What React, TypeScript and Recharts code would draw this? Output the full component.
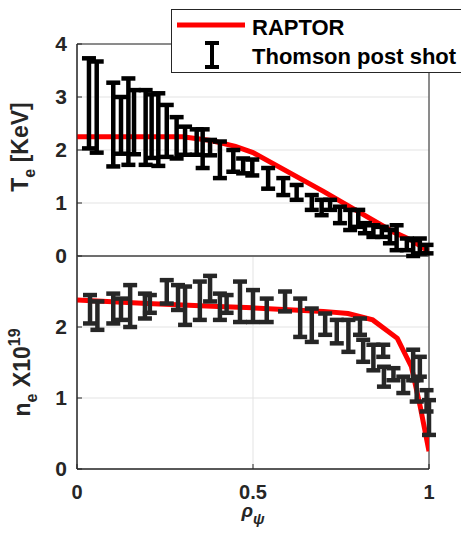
import React from 'react';
import { ComposedChart, Line, Scatter, ErrorBar, XAxis, YAxis, CartesianGrid, ReferenceArea, Legend } from 'recharts';

const FONT = '"Liberation Sans", Arial, Helvetica, sans-serif';
const AXIS = '#262626';
const GRID = '#e3e3e3';

// RAPTOR simulated profiles
const raptorTeRho = [0, 0.3, 0.38, 0.45, 0.5, 0.7, 0.9, 0.95, 1.0];
const raptorTe = [2.25, 2.25, 2.18, 2.07, 1.95, 1.22, 0.45, 0.3, 0.08];
const raptorNeRho = [0, 0.2, 0.4, 0.5, 0.7, 0.77, 0.84, 0.91, 0.95, 0.975, 1.0];
const raptorNe = [2.38, 2.33, 2.29, 2.27, 2.22, 2.19, 2.1, 1.84, 1.44, 0.88, 0.25];

// Thomson post shot, Te (KeV): lower / upper ends of each bar
const thomTeRho = [0.034, 0.056, 0.103, 0.125, 0.146, 0.162, 0.195, 0.212, 0.231, 0.255, 0.283, 0.307, 0.34, 0.357, 0.378, 0.406, 0.444, 0.472, 0.498, 0.543, 0.586, 0.624, 0.667, 0.695, 0.719, 0.747, 0.776, 0.799, 0.818, 0.842, 0.866, 0.889, 0.908, 0.937, 0.955, 0.974, 0.993];
const thomTeLow = [2.03, 1.95, 1.69, 1.93, 1.72, 1.92, 1.72, 1.85, 1.7, 1.87, 1.84, 1.91, 1.91, 1.66, 1.9, 1.47, 1.59, 1.56, 1.52, 1.27, 1.15, 1.06, 0.87, 0.77, 0.87, 0.62, 0.49, 0.55, 0.43, 0.36, 0.36, 0.24, 0.11, 0.11, 0.0, 0.05, 0.05];
const thomTeHigh = [3.73, 3.67, 3.27, 3.0, 3.35, 3.13, 3.13, 3.05, 3.07, 2.85, 2.62, 2.44, 2.39, 2.39, 2.19, 2.16, 2.0, 1.84, 1.82, 1.66, 1.47, 1.34, 1.15, 1.06, 1.06, 0.93, 0.87, 0.87, 0.62, 0.58, 0.55, 0.49, 0.58, 0.33, 0.3, 0.33, 0.21];

// Thomson post shot, ne (x10^19)
const thomNeRho = [0.037, 0.058, 0.103, 0.125, 0.151, 0.193, 0.207, 0.255, 0.287, 0.307, 0.349, 0.378, 0.406, 0.425, 0.463, 0.5, 0.539, 0.591, 0.634, 0.667, 0.705, 0.738, 0.771, 0.804, 0.813, 0.842, 0.87, 0.872, 0.899, 0.927, 0.955, 0.965, 0.974, 0.993, 1.0];
const thomNeLow = [2.05, 1.96, 2.05, 2.1, 2.0, 2.12, 2.2, 2.33, 2.24, 2.03, 2.1, 2.36, 2.1, 2.2, 2.07, 2.07, 2.07, 2.22, 1.86, 1.79, 1.89, 1.77, 1.65, 1.89, 1.51, 1.39, 1.58, 1.16, 1.25, 1.07, 1.25, 0.95, 1.3, 0.81, 0.48];
const thomNeHigh = [2.45, 2.36, 2.47, 2.4, 2.59, 2.47, 2.45, 2.66, 2.59, 2.57, 2.64, 2.72, 2.47, 2.45, 2.64, 2.52, 2.4, 2.5, 2.4, 2.26, 2.19, 2.1, 2.1, 2.12, 1.82, 1.75, 1.75, 1.44, 1.42, 1.3, 1.68, 1.25, 1.58, 1.11, 0.97];

const teTicks = [0, 1, 2, 3, 4];
const neTicks = [0, 1, 2];
const rhoGridTop = [0, 0.2, 0.4, 0.6, 0.8, 1];
const rhoTicks = [0, 0.5, 1];

const toLine = (xs: number[], ys: number[]) => xs.map((x, i) => ({ rho: x, v: ys[i] }));
const toBars = (xs: number[], lo: number[], hi: number[]) =>
  xs.map((x, i) => {
    const mid = (lo[i] + hi[i]) / 2;
    return { rho: x, v: mid, err: [mid - lo[i], hi[i] - mid] };
  });

const tickStyle = { fill: AXIS, fontSize: 21, fontWeight: 700, fontFamily: FONT };
const xTickStyle = { ...tickStyle, fontSize: 20 };

const TeLabel = (props: any) => {
  const { viewBox } = props;
  const cx = viewBox.x + 28;
  const cy = viewBox.y + viewBox.height / 2 - 3;
  return (
    <text x={cx} y={cy} transform={`rotate(-90 ${cx} ${cy})`} textAnchor="middle" fill={AXIS}
      style={{ fontFamily: FONT, fontWeight: 700, fontSize: 23 }}>
      T<tspan dy={7} fontSize={16}>e</tspan><tspan dy={-7}> [KeV]</tspan>
    </text>
  );
};

const NeLabel = (props: any) => {
  const { viewBox } = props;
  const cx = viewBox.x + 30;
  const cy = viewBox.y + viewBox.height / 2 + 10;
  return (
    <text x={cx} y={cy} transform={`rotate(-90 ${cx} ${cy})`} textAnchor="middle" fill={AXIS}
      style={{ fontFamily: FONT, fontWeight: 700, fontSize: 23 }}>
      n<tspan dy={7} fontSize={16}>e</tspan><tspan dy={-7}> X10</tspan><tspan dy={-10} fontSize={16}>19</tspan>
    </text>
  );
};

const RhoLabel = (props: any) => {
  const { viewBox } = props;
  const cx = viewBox.x + viewBox.width / 2;
  return (
    <text x={cx} y={viewBox.y + 48} textAnchor="middle" fill={AXIS}
      style={{ fontFamily: FONT, fontWeight: 700, fontStyle: 'italic', fontSize: 19 }}>
      ρ<tspan dy={7} fontSize={15}>ψ</tspan>
    </text>
  );
};

const LegendBox = () => (
  <svg width={296} height={64} style={{ display: 'block' }}>
    <rect x={0.5} y={0.5} width={295} height={63} fill="#fff" stroke={AXIS} />
    <line x1={6} x2={74} y1={16} y2={16} stroke="#ff0000" strokeWidth={5} />
    <g stroke="#000" strokeWidth={4}>
      <line x1={41} x2={41} y1={34} y2={58} />
      <line x1={34} x2={48} y1={34} y2={34} />
      <line x1={34} x2={48} y1={58} y2={58} />
    </g>
    <text x={81} y={26} fill="#000" style={{ fontFamily: FONT, fontWeight: 700, fontSize: 22 }}>RAPTOR</text>
    <text x={81} y={55} fill="#000" style={{ fontFamily: FONT, fontWeight: 700, fontSize: 22 }}>Thomson post shot</text>
  </svg>
);

const noDot = () => <g />;

const TopPanel = () => (
  <ComposedChart width={461} height={272} margin={{ top: 44, right: 32, bottom: 16, left: 0 }}>
    <CartesianGrid stroke={GRID} />
    <XAxis type="number" dataKey="rho" domain={[0, 1]} ticks={rhoGridTop} tick={false} height={0} interval={0}
      axisLine={{ stroke: AXIS }} tickLine={{ stroke: AXIS }} tickSize={-5} allowDataOverflow />
    <YAxis type="number" domain={[0, 4]} ticks={teTicks} interval={0} width={77} tick={tickStyle} tickSize={-5} tickMargin={15}
      axisLine={{ stroke: AXIS }} tickLine={{ stroke: AXIS }} allowDataOverflow label={<TeLabel />} />
    <ReferenceArea x1={0} x2={1} y1={0} y2={4} fill="none" fillOpacity={0} stroke={AXIS} strokeOpacity={1} />
    <Line data={toLine(raptorTeRho, raptorTe)} dataKey="v" type="linear" stroke="#ff0000" strokeWidth={5}
      dot={false} activeDot={false} isAnimationActive={false} legendType="none" />
    <Scatter data={toBars(thomTeRho, thomTeLow, thomTeHigh)} dataKey="v" shape={noDot} isAnimationActive={false} legendType="none">
      <ErrorBar dataKey="err" direction="y" width={7} stroke="#000" strokeWidth={4.5} isAnimationActive={false} />
    </Scatter>
    <Legend layout="horizontal" verticalAlign="middle" align="center" content={<LegendBox />}
      wrapperStyle={{ position: 'absolute', left: 171, top: 9, width: 296, height: 64 }} />
  </ComposedChart>
);

const BottomPanel = () => (
  <ComposedChart width={461} height={283} margin={{ top: 6, right: 32, bottom: 0, left: 0 }}>
    <CartesianGrid stroke={GRID} />
    <XAxis type="number" dataKey="rho" domain={[0, 1]} ticks={rhoTicks} interval={0} height={64} tick={xTickStyle}
      tickFormatter={(v: number) => String(v)} tickSize={-5} tickMargin={21}
      axisLine={{ stroke: AXIS }} tickLine={{ stroke: AXIS }} allowDataOverflow label={<RhoLabel />} />
    <YAxis type="number" domain={[0, 3]} ticks={neTicks} interval={0} width={77} tick={tickStyle} tickSize={-5} tickMargin={15}
      axisLine={{ stroke: AXIS }} tickLine={{ stroke: AXIS }} allowDataOverflow label={<NeLabel />} />
    <ReferenceArea x1={0} x2={1} y1={0} y2={3} fill="none" fillOpacity={0} stroke={AXIS} strokeOpacity={1} />
    <Line data={toLine(raptorNeRho, raptorNe)} dataKey="v" type="linear" stroke="#ff0000" strokeWidth={5}
      dot={false} activeDot={false} isAnimationActive={false} />
    <Scatter data={toBars(thomNeRho, thomNeLow, thomNeHigh)} dataKey="v" shape={noDot} isAnimationActive={false}>
      <ErrorBar dataKey="err" direction="y" width={7} stroke={AXIS} strokeWidth={4.5} isAnimationActive={false} />
    </Scatter>
  </ComposedChart>
);

export default function App() {
  return (
    <div style={{ position: 'absolute', left: 0, top: 0, width: 461, height: 533, overflow: 'hidden', background: '#fff' }}>
      <div style={{ position: 'absolute', left: 0, top: 250 }}>
        <BottomPanel />
      </div>
      <div style={{ position: 'absolute', left: 0, top: 0 }}>
        <TopPanel />
      </div>
    </div>
  );
}
